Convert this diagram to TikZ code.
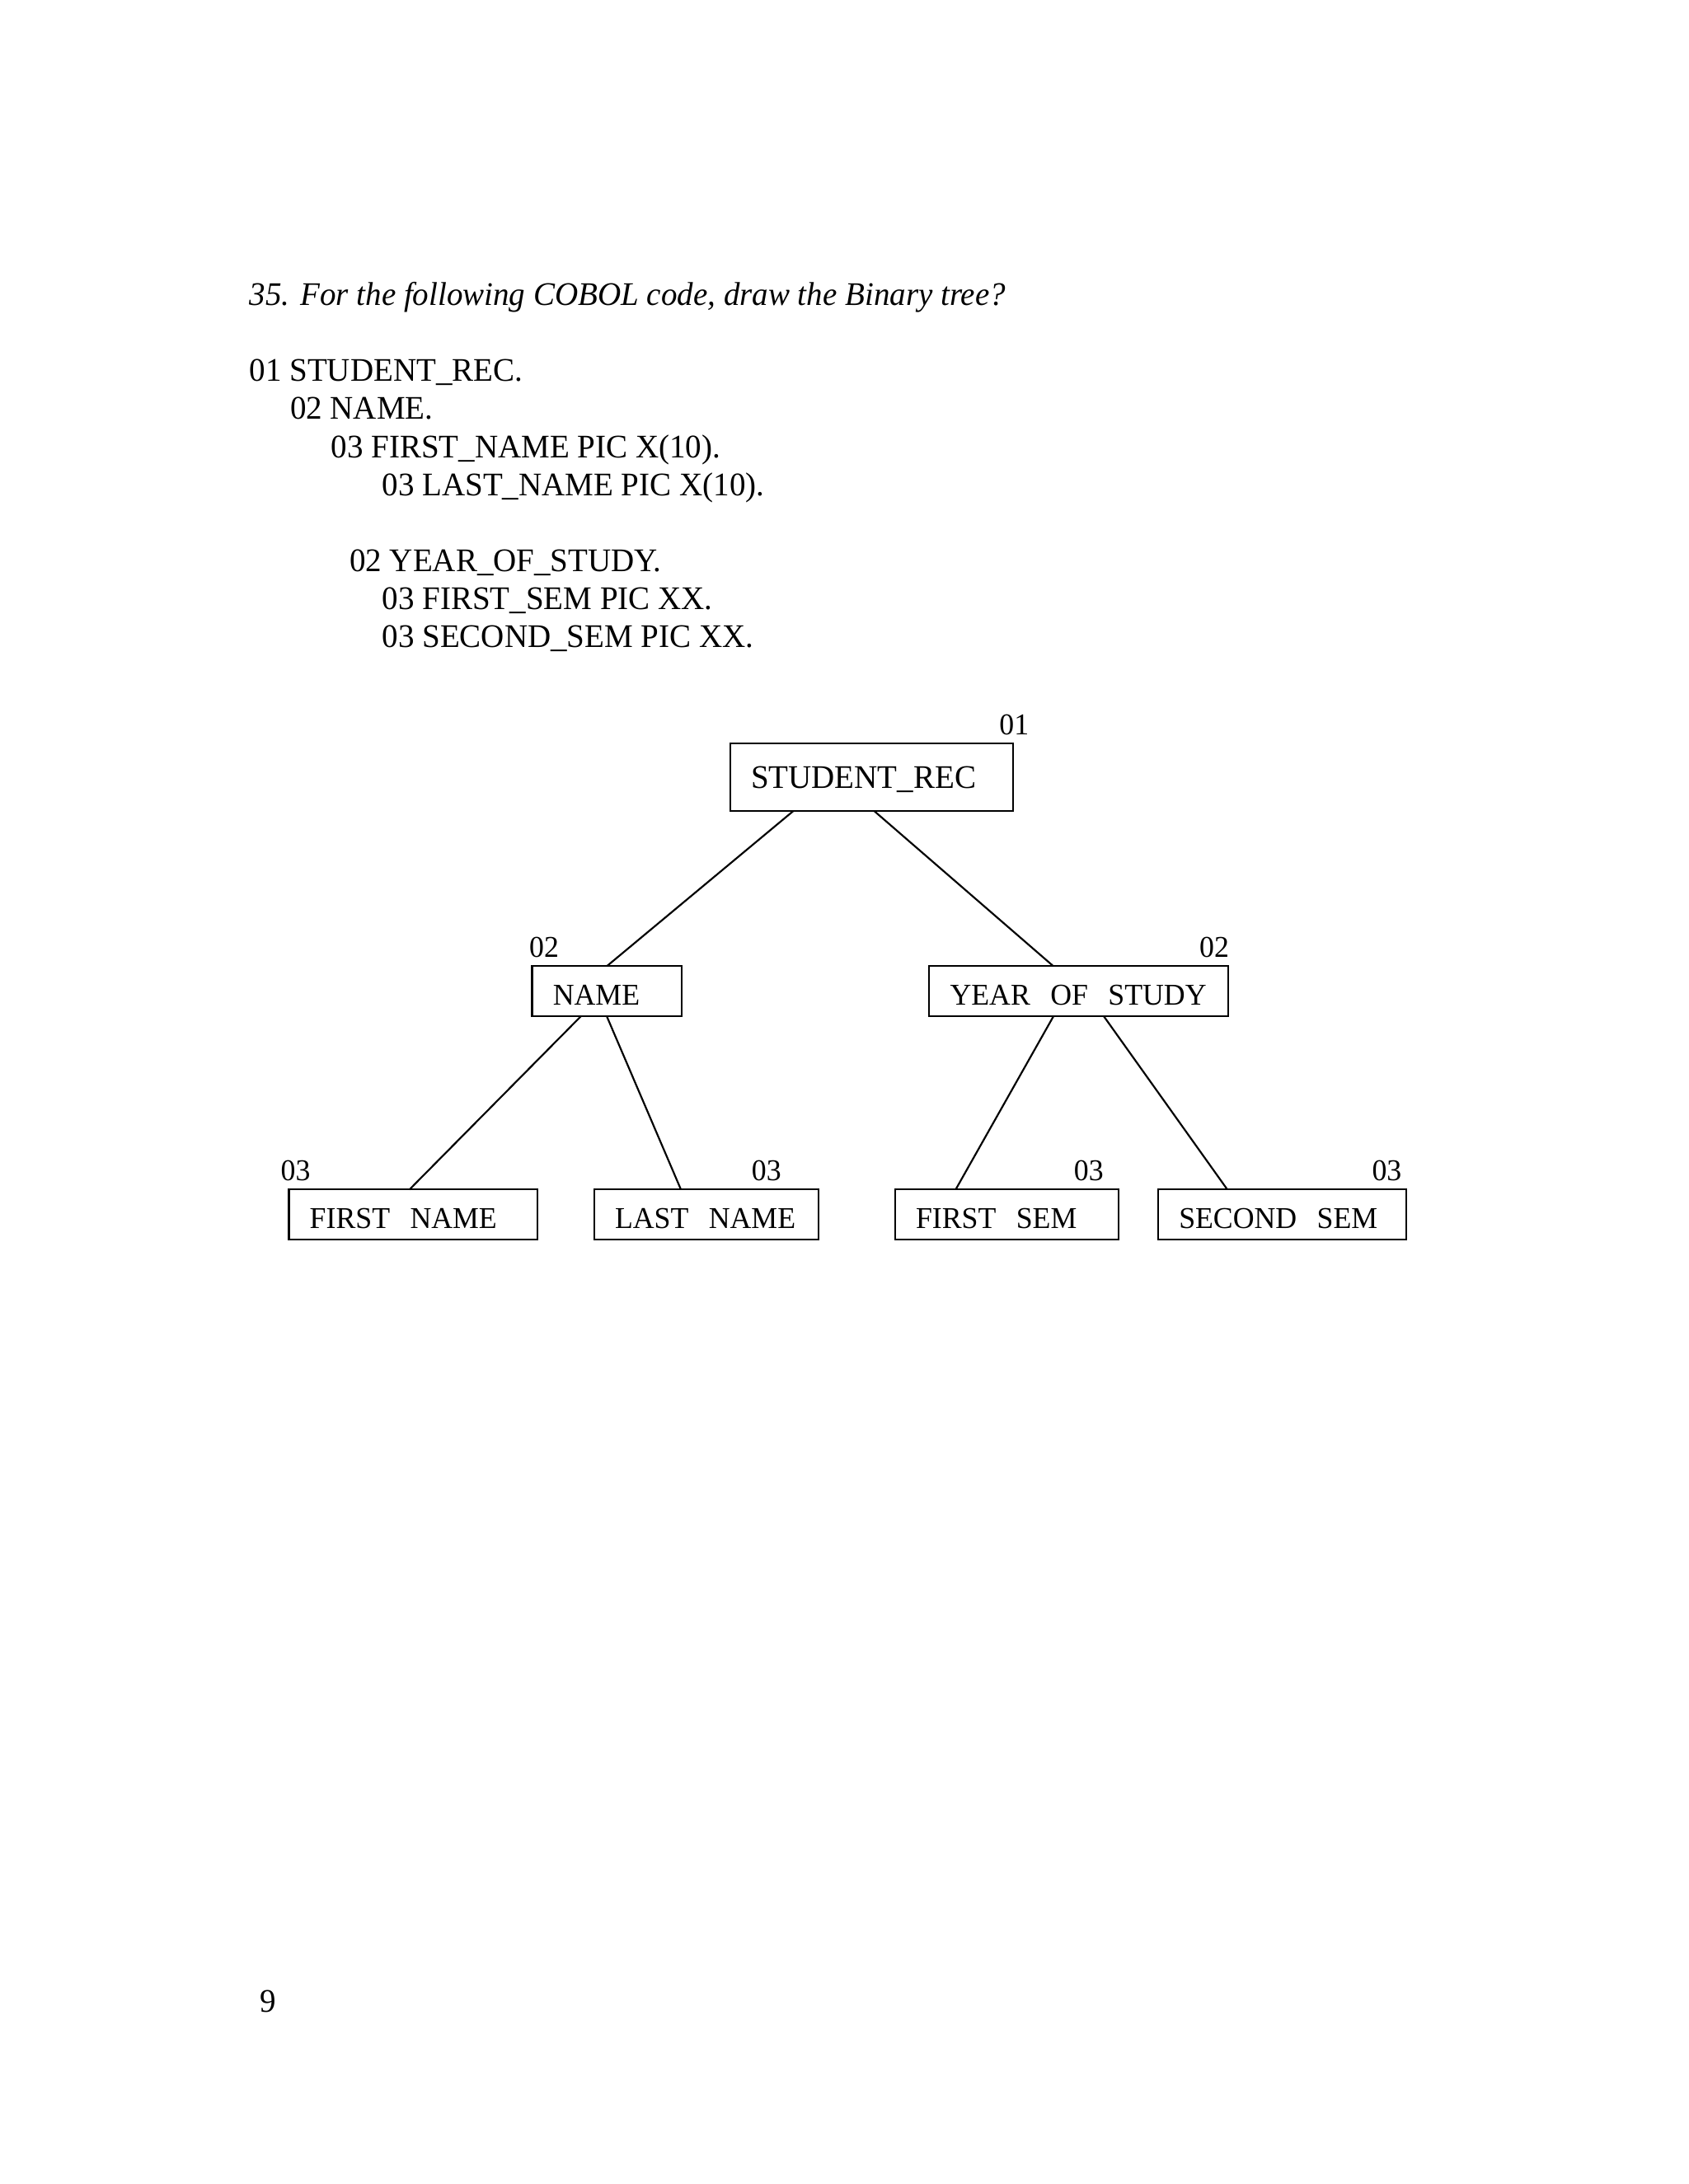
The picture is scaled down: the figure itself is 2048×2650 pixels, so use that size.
\documentclass[tikz,border=0pt]{standalone}
\usepackage{fontspec}
\setmainfont{Liberation Serif}[FakeStretch=0.975]
\usepackage{tikz}
\usetikzlibrary{calc}

\begin{document}
\begin{tikzpicture}[
                x=0.29995pt, y=-0.29995pt,
                codeline/.style={anchor=base west, inner sep=0pt, font=\fontsize{12}{14}\selectfont},
                fieldbox/.style={rectangle, draw=black, line width=0.7pt, anchor=north west, outer sep=0pt,
                    inner xsep=7.6pt, inner ysep=0pt, minimum height=18.3pt, text width=#1, align=left,
                    text height=10pt, text depth=0pt, font=\fontsize{11}{13}\selectfont},
                rootbox/.style={fieldbox=#1, minimum height=24.7pt, text height=8pt, font=\fontsize{12}{14}\selectfont},
                level/.style={inner sep=0pt, font=\fontsize{11}{13}\selectfont},
                link/.style={line width=0.65pt}
            ]
                \path[use as bounding box, fill=white] (0,0) rectangle (2048,2650);

                \node[codeline, font=\fontsize{12}{14}\selectfont\itshape] (question) at (302,370) {35. For the following COBOL code, draw the Binary tree?};
                \node[codeline] (c1) at (302,462.7) {01 STUDENT\_REC.};
                \node[codeline] (c2) at (351.4,508.3) {02 NAME.};
                \node[codeline] (c3) at (401.2,555) {03 FIRST\_NAME PIC X(10).};
                \node[codeline] (c4) at (463,601) {03 LAST\_NAME PIC X(10).};
                \node[codeline] (c5) at (423.5,693.3) {02 YEAR\_OF\_STUDY.};
                \node[codeline] (c6) at (463,739.3) {03 FIRST\_SEM PIC XX.};
                \node[codeline] (c7) at (463,785) {03 SECOND\_SEM PIC XX.};

                \node[rootbox=87.7pt] (rec) at (885.7,901.7) {STUDENT\_REC};
                \node[fieldbox=39.2pt] (name) at (645.5,1172.3) {NAME};
                \node[fieldbox=93.6pt] (year) at (1127.2,1172.3) {\mbox{YEAR\ \ OF\ \ STUDY}};
                \node[fieldbox=75.2pt] (fname) at (350.4,1443.3) {\mbox{FIRST\ \ NAME}};
                \node[fieldbox=66.4pt] (lname) at (720.7,1443.3) {\mbox{LAST\ \ NAME}};
                \node[fieldbox=66.2pt] (fsem) at (1085.7,1443.3) {\mbox{FIRST\ \ SEM}};
                \node[fieldbox=75.2pt] (ssem) at (1404.9,1443.3) {\mbox{SECOND\ \ SEM}};

                \node[level, anchor=base west] (lvrec) at ([shift={(-5.1pt,3.2pt)}]rec.north east) {01};
                \node[level, anchor=base west] (lvname) at ([shift={(-1.2pt,3.2pt)}]name.north west) {02};
                \node[level, anchor=base east] (lvyear) at ([shift={(0.5pt,3.2pt)}]year.north east) {02};
                \node[level, anchor=base west] (lvfname) at ([shift={(-3.1pt,3.2pt)}]fname.north west) {03};
                \node[level, anchor=base east] (lvlname) at ([shift={(-13.3pt,3.2pt)}]lname.north east) {03};
                \node[level, anchor=base east] (lvfsem) at ([shift={(-5.3pt,3.2pt)}]fsem.north east) {03};
                \node[level, anchor=base east] (lvssem) at ([shift={(-1.6pt,3.2pt)}]ssem.north east) {03};

                \draw[link] ([xshift=23pt]rec.south west) -- (name.north);
                \draw[link] ([xshift=1pt]rec.south) -- ([xshift=-9.2pt]year.north);
                \draw[link] ([xshift=-9.5pt]name.south) -- ([xshift=-1.3pt]fname.north);
                \draw[link] (name.south) -- ([xshift=-9.2pt]lname.north);
                \draw[link] ([xshift=-9.2pt]year.south) -- ([xshift=-18.6pt]fsem.north);
                \draw[link] ([xshift=9.2pt]year.south) -- ([xshift=-20pt]ssem.north);

                \node[codeline] (pagenum) at (315,2441) {9};
            \end{tikzpicture}
\end{document}
